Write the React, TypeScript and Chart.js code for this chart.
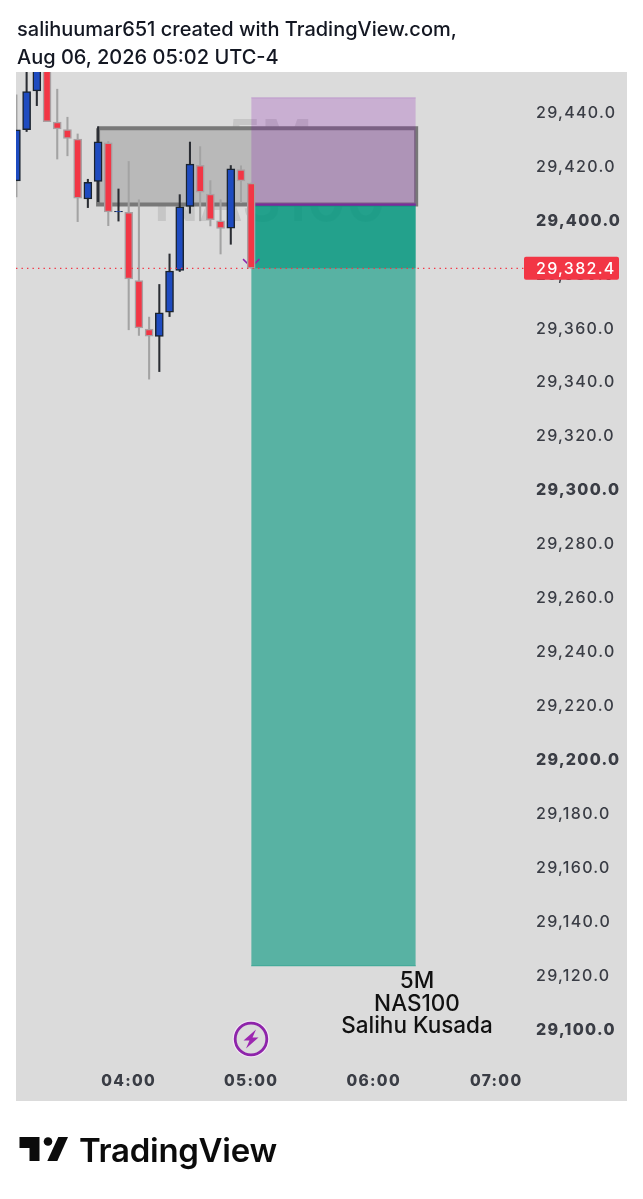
import React, { useEffect, useRef } from "react";
import { Chart, registerables } from "chart.js";

Chart.register(...registerables);

// Candle times in minutes after midnight, 03:05 .. 05:00
const times = [185, 190, 195, 200, 205, 210, 215, 220, 225, 230, 235, 240, 245, 250, 255, 260, 265, 270, 275, 280, 285, 290, 295, 300];
const opens = [29414.8, 29433.8, 29448.2, 29475.4, 29436.6, 29433.8, 29430.3, 29408.1, 29414.6, 29428.9, 29403.3, 29403.1, 29377.8, 29359.9, 29357.1, 29366.1, 29381.6, 29405.3, 29420.6, 29409.9, 29400, 29397.3, 29419, 29414];
const closes = [29433.7, 29447.9, 29458.4, 29436.8, 29434.1, 29430.5, 29408.4, 29414.3, 29429.3, 29403.3, 29403.5, 29378.5, 29360.3, 29357.2, 29365.9, 29381.4, 29405.2, 29421, 29410.6, 29400.4, 29397.2, 29419.3, 29414.8, 29382.4];
const highs = [29446.7, 29460.4, 29465.4, 29480.4, 29448.8, 29438.4, 29432.2, 29415.4, 29434.9, 29429.4, 29411.8, 29422, 29407.8, 29364.3, 29376.4, 29387.7, 29409.7, 29429.2, 29427.5, 29414.9, 29407.8, 29420.5, 29420.4, 29414];
const lows = [29408.9, 29433.1, 29442.7, 29436.8, 29422.9, 29424.1, 29399.7, 29404.9, 29407.1, 29398.2, 29399.9, 29359.6, 29357.5, 29341.3, 29344.1, 29364.5, 29381.2, 29402.8, 29400, 29398.1, 29387.7, 29391.3, 29406.7, 29382.4];

const priceTicks = [29100, 29120, 29140, 29160, 29180, 29200, 29220, 29240, 29260, 29280, 29300, 29320, 29340, 29360, 29380, 29400, 29420, 29440];
const timeTicks = [240, 300, 360, 420];
const lastPrice = 29382.4;

// Drawing objects: rectangle (zone) and long/short position tool
const zoneTimes = [225, 380.8];
const zonePrices = [29406, 29434.3];
const positionTimes = [300, 380.6];
const stopPrice = 29445.6;
const entryPrice = 29406;
const targetPrice = 29123.8;
const arrowTimes = [296, 300, 304];
const arrowPrices = [29385.8, 29382.8, 29385.8];

const xMin = 184.8;
const xMax = 436.55;
const yMin = 29088.13;
const yMax = 29455.17;

const UP = "#1e4bc0";
const DOWN = "#f23645";
const UP_BORDER = "#1b2430";
const DOWN_BORDER = "#a9a0a2";
const UP_WICK = "#2a2d33";
const DOWN_WICK = "#a3a3a3";
const FONT = "Inter, 'Noto Sans', sans-serif";

const fmt = (v: number) =>
  v.toLocaleString("en-US", { minimumFractionDigits: 1, maximumFractionDigits: 1 });
const hhmm = (m: number) =>
  `${String(Math.floor(m / 60)).padStart(2, "0")}:${String(m % 60).padStart(2, "0")}`;

const backdrop = {
  id: "backdrop",
  beforeDraw(chart: any) {
    const { ctx, scales } = chart;
    ctx.fillStyle = "#fff";
    ctx.fillRect(0, 0, 643, 1199);
    ctx.fillStyle = "#dbdbdb";
    ctx.fillRect(16, 72, 611, 1029);
    (ctx as any).letterSpacing = "1.3px";
    // faint watermark
    ctx.save();
    (ctx as any).letterSpacing = "0px";
    ctx.fillStyle = "#c6c6c6";
    ctx.textAlign = "center";
    ctx.textBaseline = "alphabetic";
    const cx = scales.x.getPixelForValue(309);
    ctx.font = `600 55px ${FONT}`;
    ctx.fillText("5M", cx, 159);
    ctx.font = `600 60px ${FONT}`;
    ctx.fillText("NAS100", cx, 221);
    ctx.restore();
  },
  afterDatasetsDraw(chart: any) {
    const { ctx, scales } = chart;
    const y = scales.y.getPixelForValue(lastPrice);
    ctx.save();
    ctx.fillStyle = DOWN;
    ctx.beginPath();
    ctx.roundRect(524, y - 11.5, 95, 23, 2);
    ctx.fill();
    ctx.fillStyle = "#fff";
    ctx.font = `500 16px ${FONT}`;
    ctx.textAlign = "left";
    ctx.textBaseline = "middle";
    ctx.fillText(fmt(lastPrice), 536, y + 0.5);
    ctx.restore();
  },
};

const rect = (xs: number[], top: number, bottom: number, bg: string, border: string, bw: number, order: number) => ({
  type: "line" as const,
  data: [{ x: xs[0], y: top }, { x: xs[1], y: top }],
  fill: { value: bottom },
  backgroundColor: bg,
  borderColor: border,
  borderWidth: bw,
  pointRadius: 0,
  order,
});

export default function App() {
  const ref = useRef<HTMLCanvasElement>(null);
  useEffect(() => {
    if (!ref.current) return;
    const isUp = times.map((_, i) => closes[i] >= opens[i]);
    const wickColors = times.map((_, i) => (i === 0 ? DOWN_WICK : isUp[i] ? UP_WICK : DOWN_WICK));
    const chart = new Chart(ref.current, {
      type: "bar",
      data: {
        datasets: [
          {
            type: "line",
            data: [{ x: xMin, y: lastPrice }, { x: xMax, y: lastPrice }],
            borderColor: DOWN,
            borderWidth: 1.2,
            borderDash: [1.4, 4.1],
            pointRadius: 0,
            order: 1,
          },
          {
            data: times.map((t, i) => ({ x: t, y: [opens[i], closes[i]] })),
            backgroundColor: isUp.map((u) => (u ? UP : DOWN)),
            borderColor: isUp.map((u) => (u ? UP_BORDER : DOWN_BORDER)),
            borderWidth: 1.5,
            borderSkipped: false,
            barThickness: 8,
            grouped: false,
            order: 2,
          },
          {
            data: times.map((t, i) => ({ x: t, y: [lows[i], highs[i]] })),
            backgroundColor: wickColors,
            borderWidth: 0,
            barThickness: 1.4,
            grouped: false,
            order: 3,
          },
          {
            type: "line",
            data: arrowTimes.map((t, i) => ({ x: t, y: arrowPrices[i] })),
            borderColor: "#8e24aa",
            borderWidth: 1.5,
            pointRadius: 0,
            order: 4,
          },
          {
            type: "line",
            data: [{ x: positionTimes[0], y: entryPrice }, { x: positionTimes[1], y: entryPrice }],
            borderColor: "#7b2d9b",
            borderWidth: 2.2,
            pointRadius: 0,
            order: 5,
          },
          rect(positionTimes, lastPrice, entryPrice, "rgba(0,150,125,0.6)", "rgba(0,0,0,0)", 0, 6),
          rect(positionTimes, targetPrice, entryPrice, "rgba(0,150,125,0.6)", "rgba(0,150,125,0.6)", 1, 7),
          rect(positionTimes, stopPrice, entryPrice, "rgba(137,19,178,0.22)", "rgba(137,19,178,0.2)", 1, 8),
          {
            type: "line",
            data: [
              { x: zoneTimes[0], y: zonePrices[1] },
              { x: zoneTimes[1], y: zonePrices[1] },
              { x: zoneTimes[1], y: zonePrices[0] },
              { x: zoneTimes[0], y: zonePrices[0] },
              { x: zoneTimes[0], y: zonePrices[1] },
            ],
            borderColor: "#787878",
            borderWidth: 4,
            borderJoinStyle: "miter",
            pointRadius: 0,
            order: 9,
          },
          rect(zoneTimes, zonePrices[1], zonePrices[0], "#b9b9b9", "rgba(0,0,0,0)", 0, 10),
        ] as any,
      },
      options: {
        responsive: false,
        animation: false,
        layout: { padding: { left: 16, top: 72, right: 16, bottom: 98 } },
        plugins: { legend: { display: false }, tooltip: { enabled: false }, title: { display: false } },
        scales: {
          x: {
            type: "linear",
            offset: false,
            min: xMin,
            max: xMax,
            grid: { display: false, drawTicks: false },
            border: { display: false },
            afterBuildTicks: (s: any) => {
              s.ticks = timeTicks.map((value) => ({ value }));
            },
            afterFit: (s: any) => {
              s.height = 39;
            },
            ticks: {
              autoSkip: false,
              maxRotation: 0,
              padding: 10,
              color: "#3a3d45",
              font: { family: FONT, size: 15.5, weight: "800" },
              callback: (v: any) => hhmm(Number(v)),
            },
          },
          y: {
            type: "linear",
            position: "right",
            min: yMin,
            max: yMax,
            grid: { display: false, drawTicks: false },
            border: { display: false },
            afterBuildTicks: (s: any) => {
              s.ticks = priceTicks.map((value) => ({ value }));
            },
            afterFit: (s: any) => {
              s.width = 97;
            },
            ticks: {
              autoSkip: false,
              padding: 6,
              color: "#3a3d45",
              font: (c: any) => {
                const major = c.tick && c.tick.value % 100 === 0;
                return { family: FONT, size: 16, weight: major ? "800" : "500" };
              },
              callback: (v: any) => fmt(Number(v)),
            },
          },
        },
      } as any,
      plugins: [backdrop],
    });
    return () => chart.destroy();
  }, []);

  const abs: React.CSSProperties = { position: "absolute", whiteSpace: "nowrap" };
  return (
    <div style={{ position: "absolute", left: 0, top: 0, width: 643, height: 1199, overflow: "hidden", background: "#fff", fontFamily: FONT }}>
      <canvas ref={ref} width={643} height={1199} style={{ position: "absolute", left: 0, top: 0, width: 643, height: 1199 }} />
      <div style={{ ...abs, left: 17, top: 16, fontSize: 20, lineHeight: "27.5px", fontWeight: 500, color: "#131722" }}>
        salihuumar651 created with TradingView.com,<br />Aug 06, 2026 05:02 UTC-4
      </div>
      <div style={{ ...abs, left: 317, width: 200, top: 969, textAlign: "center", fontSize: 22.5, lineHeight: "22.7px", fontWeight: 500, color: "#111" }}>
        5M<br />NAS100<br />Salihu Kusada
      </div>
      <svg style={{ position: "absolute", left: 232, top: 1020 }} width="38" height="38" viewBox="0 0 38 38">
        <circle cx="19" cy="19" r="18.5" fill="#f3e5f5" />
        <circle cx="19" cy="19" r="15.8" fill="#dbdbdb" stroke="#8e24aa" strokeWidth="2.8" />
        <path d="M24 9.5 L11.5 20.5 L17.5 20.5 L14 28.5 L26.5 17.5 L20.5 17.5 Z" fill="#9c27b0" />
      </svg>
      <svg style={{ position: "absolute", left: 0, top: 1130 }} width="72" height="36" viewBox="0 0 72 36">
        <path d="M19.5 7 H39.5 V31 H29.5 V18 H19.5 Z" fill="#0b0b0b" />
        <circle cx="48" cy="11.5" r="4.3" fill="#0b0b0b" />
        <path d="M58.3 7 H68 L57.3 31 H47.3 Z" fill="#0b0b0b" />
      </svg>
      <div style={{ ...abs, left: 79, top: 1130, fontSize: 33, lineHeight: "40px", fontWeight: 600, letterSpacing: "-0.3px", color: "#0b0b0b" }}>
        TradingView
      </div>
    </div>
  );
}
